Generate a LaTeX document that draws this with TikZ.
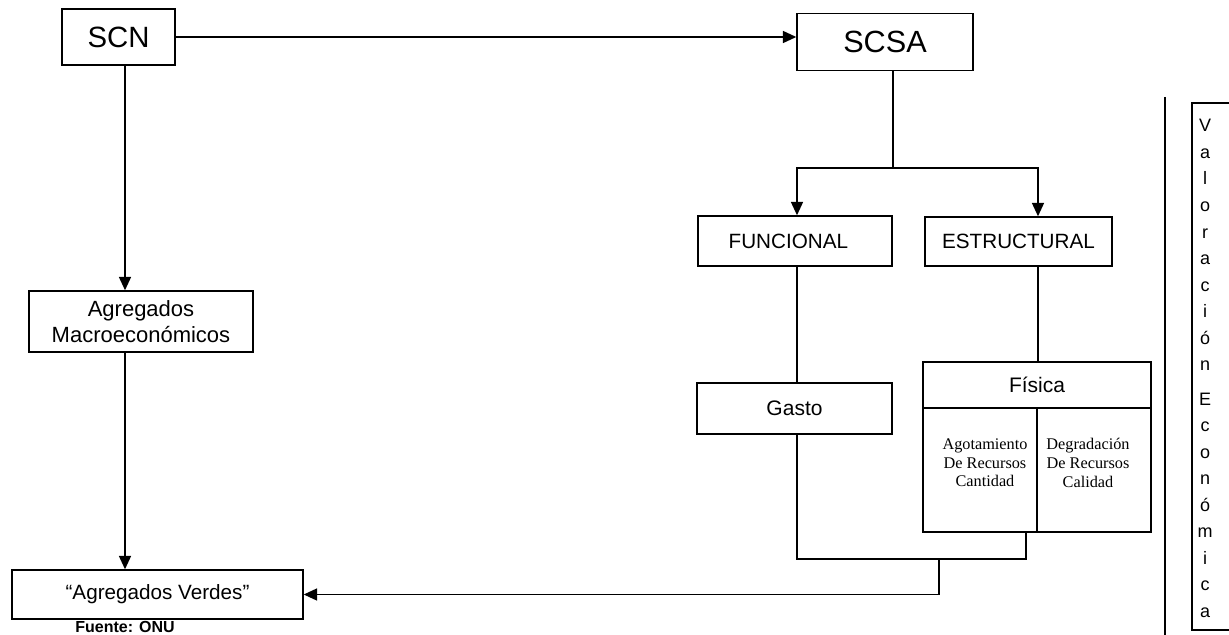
\documentclass[tikz,border=0pt]{standalone}
\usepackage{fontspec}
\setmainfont{Liberation Sans}
\newfontfamily\tms{Liberation Serif}
\usetikzlibrary{arrows.meta}
\begin{document}
\begin{tikzpicture}[x=0.75pt,y=-0.75pt, line width=1.1pt,
  box/.style 2 args={draw, minimum width=#1*0.75pt, minimum height=#2*0.75pt, inner sep=0pt, align=center},
  arr/.style={-{Triangle[length=10pt,width=9pt]}},
  serif/.style={font=\tms\fontsize{12.2}{14}\selectfont, align=center, inner sep=0pt},
  vletter/.style={font=\fontsize{13.5}{15}\selectfont, inner sep=0pt, anchor=base}]
\useasboundingbox (0,0) rectangle (1229,635);

% boxes
\node[box={113}{56}, font=\fontsize{22}{26}\selectfont] (SCN) at (118.5,37) {SCN};
\node[box={176}{57}, font=\fontsize{23}{27}\selectfont] (SCSA) at (885,42) {SCSA};
\node[box={224}{61}, font=\fontsize{16.5}{19.5}\selectfont] (AM) at (141,321.5) {Agregados\\Macroeconómicos};
\node[box={291}{49}, font=\fontsize{15.5}{18}\selectfont] (AV) at (157.5,594.5) {“Agregados Verdes”};
\node[font=\bfseries\fontsize{12}{14}\selectfont, inner sep=0pt] (src) at (125,627) {Fuente: ONU};

\node[box={194}{50}, font=\fontsize{15.5}{18}\selectfont] (FUN) at (795,241) {\hspace*{-10pt}FUNCIONAL};
\node[box={187}{49}, font=\fontsize{15.5}{18}\selectfont] (EST) at (1018.5,241.5) {ESTRUCTURAL};
\node[box={195}{51}, font=\fontsize{15.75}{18}\selectfont] (GAS) at (794.5,408.5) {Gasto};

\node[box={228}{46}, font=\fontsize{15.75}{18}\selectfont] (FIS) at (1037,385) {Física};
\node[box={114}{124}] (AGO) at (980,470) {};
\node[box={114}{124}] (DEG) at (1094,470) {};
\node[serif] (agot) at (985,463) {Agotamiento\\De Recursos\\Cantidad};
\node[serif] (degr) at (1088,463) {Degradación\\De Recursos\\Calidad};

% connectors
\coordinate (lx) at (125,0);
\draw[arr] (SCN.east) -- (SCN.east -| SCSA.west);
\draw[arr] (SCN.south -| lx) -- (AM.north -| lx);
\draw[arr] (AM.south -| lx) -- (AV.north -| lx);

\coordinate (br) at (893,168);
\coordinate (fx) at (797,0);
\coordinate (ex) at (1038,0);
\draw (SCSA.south -| br) -- (br);
\draw[arr] (br) -| (FUN.north -| fx);
\draw[arr] (br) -| (EST.north -| ex);
\draw (FUN.south -| fx) -- (GAS.north -| fx);
\draw (EST.south -| ex) -- (FIS.north -| ex);

\coordinate (j) at (939,559);
\coordinate (fb) at (1026,0);
\draw (GAS.south -| fx) |- (fb |- j) -- (AGO.south -| fb);
\draw[arr] (j) |- (AV.east);

% right side
\draw (1165,97) -- (1165,635);
\draw (1245,103) -- (1192,103) -- (1192,630) -- (1245,630);
\foreach \ch [count=\i] in {V,a,l,o,r,a,c,i,ó,n}
  \node[vletter] (va\i) at (1205,{132+(\i-1)*26.5}) {\ch};
\foreach \ch [count=\i] in {E,c,o,n,ó,m,i,c,a}
  \node[vletter] (ve\i) at (1205,{405+(\i-1)*26.5}) {\ch};
\end{tikzpicture}
\end{document}
